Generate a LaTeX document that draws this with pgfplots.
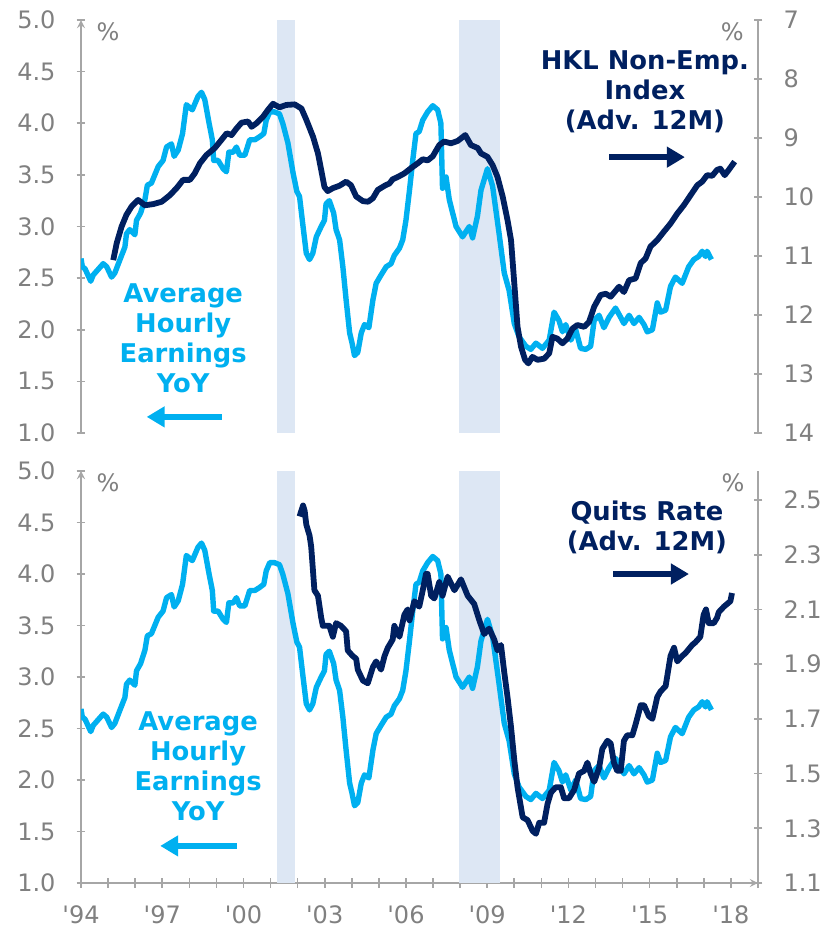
\documentclass[border=0pt]{standalone}
\usepackage{fontspec}
\setmainfont{DejaVu Sans}
\usepackage{pgfplots}
\usepackage{pgfplotstable}
\pgfplotsset{compat=1.18}
\usetikzlibrary{arrows.meta}

\definecolor{ahe}{HTML}{00B0F0}
\definecolor{navy}{HTML}{002060}
\definecolor{recess}{HTML}{DDE7F4}
\definecolor{axgray}{HTML}{A6A6A6}
\definecolor{lblgray}{HTML}{808080}

% average hourly earnings, yoy %
\pgfplotstableread{
yr val
1994.00 2.69
1994.05 2.61
1994.15 2.59
1994.36 2.47
1994.45 2.53
1994.82 2.64
1994.95 2.61
1995.13 2.51
1995.25 2.55
1995.44 2.68
1995.62 2.80
1995.68 2.93
1995.80 2.97
1995.99 2.92
1996.05 3.06
1996.20 3.13
1996.36 3.26
1996.45 3.40
1996.60 3.42
1996.85 3.58
1997.03 3.64
1997.16 3.77
1997.34 3.80
1997.44 3.68
1997.59 3.74
1997.75 3.90
1997.89 4.18
1998.11 4.13
1998.32 4.26
1998.45 4.30
1998.57 4.23
1998.73 4.00
1998.85 3.84
1998.90 3.64
1999.06 3.64
1999.25 3.56
1999.37 3.53
1999.46 3.72
1999.62 3.72
1999.74 3.77
1999.86 3.69
2000.05 3.69
2000.23 3.84
2000.42 3.84
2000.60 3.87
2000.75 3.90
2000.84 4.03
2000.97 4.11
2001.15 4.11
2001.33 4.09
2001.45 4.00
2001.64 3.81
2001.83 3.52
2001.97 3.34
2002.07 3.29
2002.20 3.00
2002.32 2.74
2002.44 2.68
2002.56 2.74
2002.69 2.90
2002.87 3.00
2002.99 3.06
2003.05 3.22
2003.17 3.25
2003.33 3.13
2003.42 2.97
2003.55 2.87
2003.67 2.61
2003.79 2.29
2003.92 1.97
2004.01 1.87
2004.10 1.75
2004.22 1.78
2004.35 1.97
2004.47 2.05
2004.63 2.02
2004.78 2.29
2004.90 2.45
2005.08 2.53
2005.27 2.61
2005.45 2.64
2005.57 2.72
2005.76 2.79
2005.88 2.87
2006.00 3.06
2006.13 3.35
2006.25 3.64
2006.37 3.90
2006.49 3.92
2006.62 4.03
2006.80 4.11
2006.99 4.17
2007.17 4.13
2007.29 4.00
2007.35 3.37
2007.48 3.48
2007.60 3.26
2007.85 3.00
2008.09 2.90
2008.34 3.00
2008.46 2.89
2008.64 3.10
2008.77 3.35
2009.01 3.56
2009.20 3.39
2009.44 2.93
2009.63 2.55
2009.81 2.38
2010.00 2.06
2010.18 1.93
2010.43 1.84
2010.61 1.81
2010.80 1.87
2011.04 1.82
2011.29 1.90
2011.47 2.17
2011.65 2.09
2011.78 1.98
2011.90 2.05
2012.09 1.90
2012.27 2.00
2012.45 1.82
2012.64 1.81
2012.82 1.84
2012.95 2.09
2013.13 2.14
2013.31 2.02
2013.50 2.12
2013.74 2.21
2013.93 2.12
2014.05 2.06
2014.24 2.14
2014.42 2.06
2014.61 2.12
2014.79 2.05
2014.91 1.98
2015.10 2.00
2015.28 2.26
2015.40 2.17
2015.59 2.19
2015.77 2.42
2015.95 2.51
2016.20 2.45
2016.44 2.61
2016.63 2.68
2016.81 2.71
2016.94 2.76
2017.06 2.71
2017.12 2.76
2017.28 2.68
}\ahe

% HKL non-employment index, advanced 12 months
\pgfplotstableread{
yr val
1995.19 11.07
1995.32 10.78
1995.50 10.50
1995.68 10.30
1995.87 10.16
1996.11 10.05
1996.36 10.14
1996.67 10.12
1996.98 10.08
1997.28 9.97
1997.53 9.85
1997.77 9.71
1998.02 9.71
1998.20 9.60
1998.39 9.43
1998.63 9.29
1998.94 9.17
1999.19 9.03
1999.38 8.92
1999.56 8.95
1999.74 8.84
1999.93 8.74
2000.17 8.72
2000.30 8.81
2000.48 8.75
2000.72 8.64
2000.91 8.52
2001.09 8.42
2001.33 8.48
2001.58 8.44
2001.89 8.43
2002.14 8.50
2002.32 8.69
2002.57 8.98
2002.75 9.26
2002.87 9.54
2002.99 9.83
2003.11 9.90
2003.30 9.85
2003.54 9.81
2003.79 9.74
2003.97 9.80
2004.16 9.99
2004.41 10.07
2004.60 10.08
2004.78 10.02
2004.96 9.88
2005.21 9.81
2005.39 9.77
2005.51 9.70
2005.70 9.66
2005.94 9.60
2006.19 9.51
2006.43 9.43
2006.62 9.36
2006.80 9.38
2006.99 9.31
2007.23 9.12
2007.41 9.06
2007.66 9.09
2007.91 9.05
2008.19 8.95
2008.40 9.12
2008.65 9.17
2008.77 9.26
2009.01 9.32
2009.20 9.46
2009.38 9.66
2009.57 9.99
2009.75 10.39
2009.88 10.73
2010.00 11.46
2010.12 12.20
2010.25 12.54
2010.40 12.76
2010.52 12.82
2010.67 12.71
2010.86 12.76
2011.10 12.74
2011.29 12.65
2011.41 12.37
2011.59 12.40
2011.78 12.48
2011.96 12.40
2012.15 12.23
2012.33 12.17
2012.58 12.20
2012.76 12.12
2012.95 11.86
2013.19 11.66
2013.38 11.64
2013.56 11.69
2013.87 11.52
2014.05 11.61
2014.24 11.41
2014.48 11.38
2014.67 11.12
2014.85 11.04
2015.03 10.84
2015.28 10.73
2015.52 10.59
2015.77 10.45
2016.02 10.28
2016.26 10.14
2016.51 9.97
2016.76 9.80
2016.94 9.74
2017.12 9.63
2017.31 9.64
2017.49 9.54
2017.61 9.52
2017.77 9.63
2017.92 9.54
2018.14 9.40
}\hkl

% quits rate, advanced 12 months
\pgfplotstableread{
yr val
2002.07 2.44
2002.20 2.48
2002.26 2.46
2002.32 2.41
2002.44 2.37
2002.50 2.33
2002.62 2.17
2002.75 2.15
2002.87 2.07
2002.93 2.04
2003.05 2.04
2003.17 2.04
2003.30 2.00
2003.42 2.05
2003.60 2.04
2003.79 2.02
2003.85 1.95
2004.03 1.93
2004.16 1.92
2004.22 1.88
2004.41 1.84
2004.59 1.83
2004.78 1.89
2004.90 1.91
2005.08 1.88
2005.21 1.93
2005.33 1.96
2005.51 1.99
2005.57 2.04
2005.76 2.00
2005.94 2.08
2006.06 2.10
2006.13 2.06
2006.31 2.13
2006.49 2.11
2006.62 2.17
2006.74 2.23
2006.80 2.23
2006.93 2.15
2007.05 2.14
2007.23 2.20
2007.35 2.15
2007.54 2.22
2007.79 2.17
2008.03 2.21
2008.28 2.15
2008.52 2.12
2008.71 2.06
2008.89 2.01
2009.07 2.03
2009.26 1.99
2009.38 1.95
2009.51 1.97
2009.63 1.87
2009.75 1.78
2009.88 1.67
2010.00 1.55
2010.12 1.45
2010.31 1.34
2010.49 1.33
2010.68 1.29
2010.80 1.28
2010.92 1.32
2011.10 1.32
2011.23 1.39
2011.35 1.43
2011.53 1.45
2011.72 1.45
2011.84 1.41
2012.02 1.41
2012.21 1.44
2012.39 1.50
2012.58 1.51
2012.70 1.54
2012.82 1.50
2012.95 1.47
2013.13 1.52
2013.25 1.59
2013.44 1.62
2013.56 1.61
2013.68 1.54
2013.80 1.51
2013.93 1.51
2014.05 1.62
2014.17 1.64
2014.36 1.64
2014.48 1.68
2014.67 1.75
2014.79 1.75
2014.97 1.71
2015.10 1.70
2015.28 1.78
2015.40 1.80
2015.59 1.82
2015.77 1.93
2015.90 1.96
2016.02 1.91
2016.20 1.93
2016.32 1.94
2016.57 1.97
2016.69 1.98
2016.87 2.00
2016.99 2.08
2017.08 2.10
2017.18 2.05
2017.37 2.05
2017.49 2.07
2017.55 2.09
2017.74 2.11
2017.86 2.12
2017.98 2.13
2018.04 2.16
}\quits

\pgfplotsset{
  base/.style={
    scale only axis, width=338.5pt,
    xmin=1994, xmax=2019,
    clip mode=individual,
    tick align=outside,
    major tick length=4.5pt, minor tick length=4.5pt,
    axis line style={draw=axgray, line width=0.8pt, -},
    tick style={draw=axgray, line width=0.8pt},
    ticklabel style={font=\fontsize{12}{14}\selectfont, text=lblgray},
    /pgf/number format/assume math mode=true,
  },
  lefty/.style={base, axis y line=left, ymin=1, ymax=5,
    ytick={1,1.5,2,2.5,3,3.5,4,4.5,5},
    yticklabel style={xshift=-7pt, /pgf/number format/.cd, fixed, fixed zerofill, precision=1},
  },
  % right axis: its own line is hidden and drawn plainly below
  righty/.style={base, axis y line=right, axis x line=none, xtick=\empty,
    y axis line style={draw=none},
    yticklabel style={xshift=7pt}},
  recbar/.style={fill=recess, draw=none},
  aheline/.style={color=ahe, line width=2.7pt, line join=round},
  navyline/.style={color=navy, line width=2.9pt, line join=round},
}
\newcommand{\notefont}{\fontsize{12.9}{15}\selectfont\bfseries}
\newcommand{\pctfont}{\fontsize{12}{14}\selectfont}
\newcommand{\q}{\textquotesingle}

\begin{document}
\begin{tikzpicture}
\path[use as bounding box] (-40.5pt,-22.5pt) rectangle (373pt,441.5pt);

% ---------- top panel ----------
\begin{axis}[lefty, height=206.5pt, at={(0,225pt)}, axis x line=none, xtick=\empty]
  \addplot[recbar] coordinates {(2001.22,1) (2001.22,5) (2001.92,5) (2001.92,1)} -- cycle;
  \addplot[recbar] coordinates {(2007.97,1) (2007.97,5) (2009.48,5) (2009.48,1)} -- cycle;
  \addplot[aheline] table[x=yr, y=val] {\ahe};
\end{axis}
\begin{axis}[righty, height=206.5pt, at={(0,225pt)}, ymin=7, ymax=14, y dir=reverse,
    ytick={7,8,9,10,11,12,13,14}]
  \draw[axgray, line width=0.8pt] (rel axis cs:1,0) -- (rel axis cs:1,1);
  \addplot[navyline] table[x=yr, y=val] {\hkl};
  \node[text=lblgray, font=\pctfont] at (rel axis cs:0.040,0.972) {\%};
  \node[text=lblgray, font=\pctfont] at (rel axis cs:0.962,0.972) {\%};
  \node[text=navy, font=\notefont, align=center] at (rel axis cs:0.833,0.826)
    {HKL Non-Emp.\\Index\\(Adv. 12M)};
  \draw[navy, line width=3pt, -{Triangle[length=9pt, width=10pt]}]
    (rel axis cs:0.780,0.668) -- (rel axis cs:0.892,0.668);
  \node[text=ahe, font=\notefont, align=center] at (rel axis cs:0.151,0.229)
    {Average\\Hourly\\Earnings\\YoY};
  \draw[ahe, line width=3pt, -{Triangle[length=9pt, width=10pt]}]
    (rel axis cs:0.208,0.039) -- (rel axis cs:0.097,0.039);
\end{axis}

% ---------- bottom panel ----------
\begin{axis}[lefty, height=206pt, at={(0,0)}, axis x line=bottom,
    xtick={1994,1995,...,2019},
    xticklabels={\q94,,,\q97,,,\q00,,,\q03,,,\q06,,,\q09,,,\q12,,,\q15,,,\q18,},
    xticklabel style={inner ysep=0.5pt, yshift=-8.5pt},
    xtick pos=bottom]
  \addplot[recbar] coordinates {(2001.22,1) (2001.22,5) (2001.92,5) (2001.92,1)} -- cycle;
  \addplot[recbar] coordinates {(2007.97,1) (2007.97,5) (2009.48,5) (2009.48,1)} -- cycle;
  \addplot[aheline] table[x=yr, y=val] {\ahe};
\end{axis}
\begin{axis}[righty, height=206pt, at={(0,0)}, ymin=1.1, ymax=2.606,
    ytick={1.1,1.3,1.5,1.7,1.9,2.1,2.3,2.5},
    yticklabel style={/pgf/number format/.cd, fixed, fixed zerofill, precision=1}]
  \draw[axgray, line width=0.8pt] (rel axis cs:1,0) -- (rel axis cs:1,1);
  \addplot[navyline] table[x=yr, y=val] {\quits};
  \node[text=lblgray, font=\pctfont] at (rel axis cs:0.040,0.971) {\%};
  \node[text=lblgray, font=\pctfont] at (rel axis cs:0.963,0.971) {\%};
  \node[text=navy, font=\notefont, align=center] at (rel axis cs:0.836,0.863)
    {Quits Rate\\(Adv. 12M)};
  \draw[navy, line width=3pt, -{Triangle[length=9pt, width=10pt]}]
    (rel axis cs:0.786,0.750) -- (rel axis cs:0.898,0.750);
  \node[text=ahe, font=\notefont, align=center] at (rel axis cs:0.173,0.284)
    {Average\\Hourly\\Earnings\\YoY};
  \draw[ahe, line width=3pt, -{Triangle[length=9pt, width=10pt]}]
    (rel axis cs:0.230,0.090) -- (rel axis cs:0.117,0.090);
\end{axis}
\end{tikzpicture}
\end{document}
